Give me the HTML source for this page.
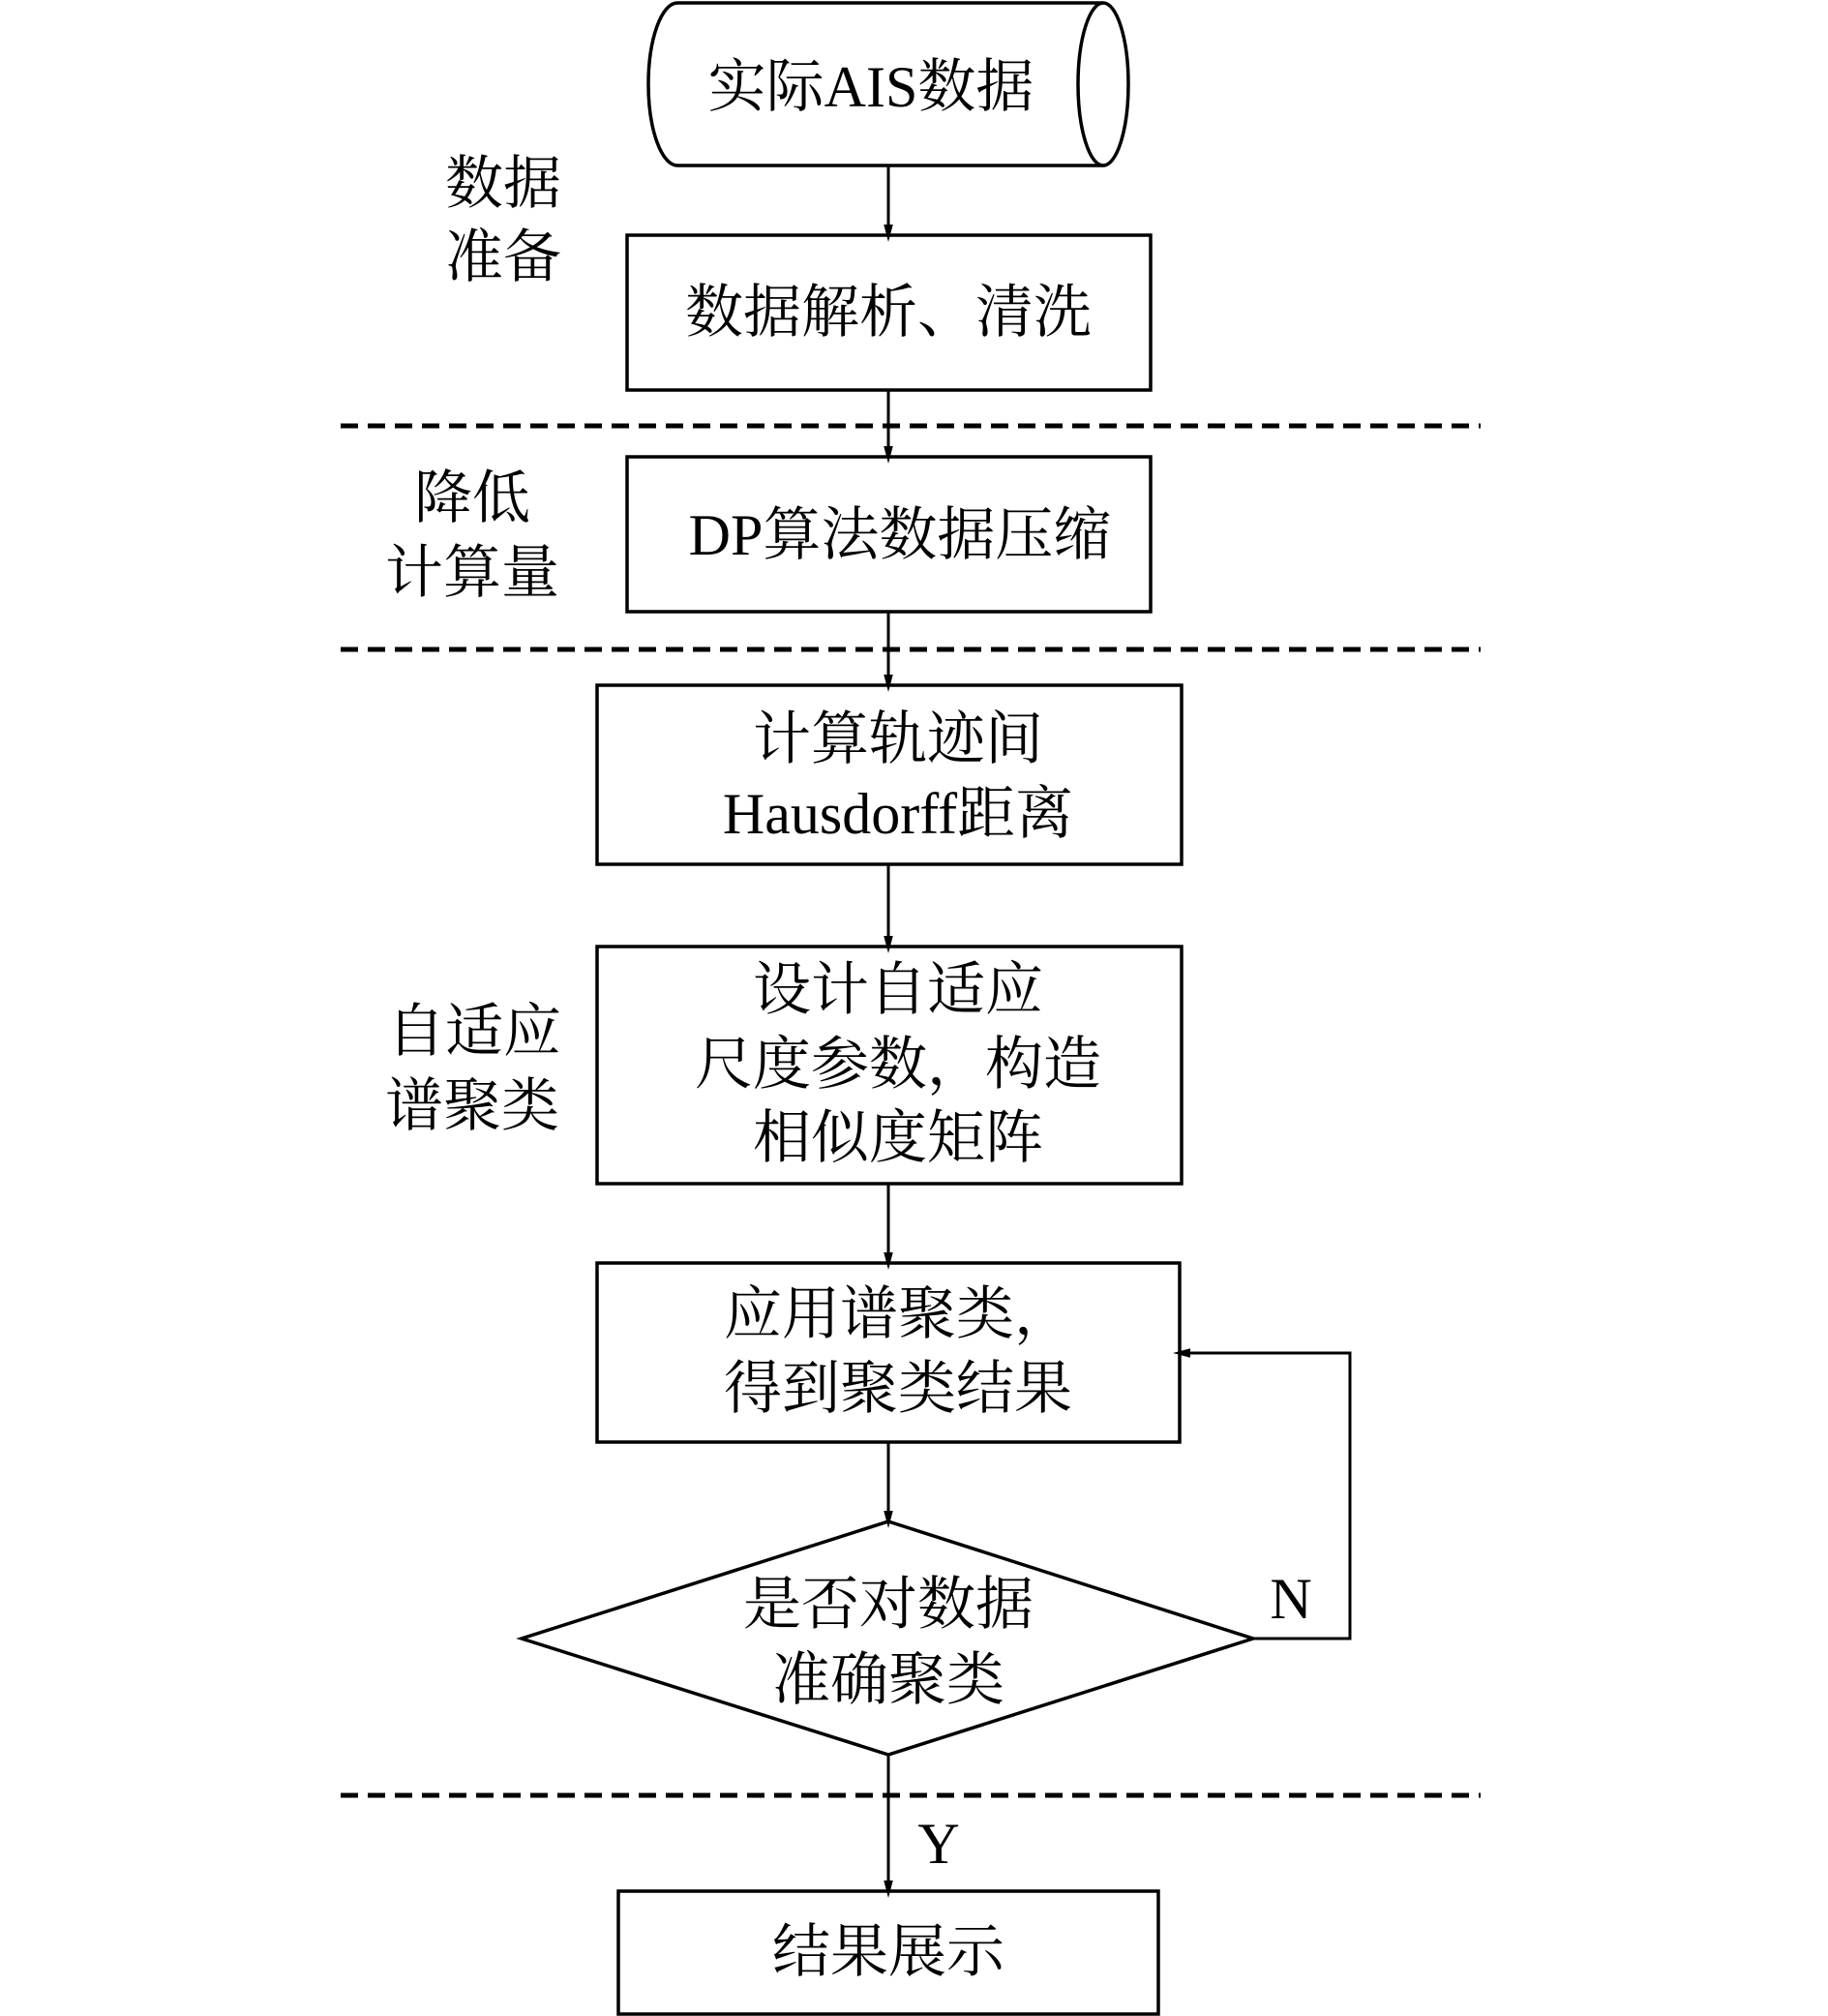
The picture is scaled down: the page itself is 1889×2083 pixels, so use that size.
<!DOCTYPE html>
<html><head><meta charset="utf-8"><style>
html,body{margin:0;padding:0;background:#fff;}
svg{display:block;}
text{font-family:"Liberation Serif","Noto Serif CJK SC",serif;font-size:60px;fill:#000;text-anchor:middle;dominant-baseline:central;}
</style></head><body>
<svg width="1889" height="2083" viewBox="0 0 1889 2083" xmlns="http://www.w3.org/2000/svg">
<defs>
<marker id="ah" markerWidth="18" markerHeight="34" refX="17" refY="9" orient="auto" markerUnits="userSpaceOnUse" viewBox="0 0 34 18">
<path d="M0,0 L34,9 L0,18 Z" fill="#000"/>
</marker>
</defs>
<g fill="none" stroke="#000" stroke-width="3.5">
<!-- cylinder -->
<path d="M700,3 L1140,3 A26,84 0 0 1 1140,171 L700,171 A30,84 0 0 1 700,3 Z"/>
<path d="M1140,3 A26,84 0 0 0 1140,171"/>
<rect x="648" y="243" width="541" height="160"/>
<rect x="648" y="472" width="541" height="160"/>
<rect x="617" y="708" width="604" height="185"/>
<rect x="617" y="978" width="604" height="245"/>
<rect x="617" y="1305" width="602" height="185"/>
<path d="M918,1572 L1295,1693 L918,1813 L539,1693 Z"/>
<rect x="639" y="1954" width="558" height="127"/>
</g>
<g stroke="#000" stroke-width="3" fill="none">
<line x1="352" y1="440" x2="1530" y2="440" stroke-dasharray="18,10" stroke-width="5"/>
<line x1="352" y1="671" x2="1530" y2="671" stroke-dasharray="18,10" stroke-width="5"/>
<line x1="352" y1="1855" x2="1530" y2="1855" stroke-dasharray="18,10" stroke-width="5"/>
<line x1="918" y1="172" x2="918" y2="241" marker-end="url(#ah)"/>
<line x1="918" y1="403" x2="918" y2="470" marker-end="url(#ah)"/>
<line x1="918" y1="632" x2="918" y2="706" marker-end="url(#ah)"/>
<line x1="918" y1="893" x2="918" y2="976" marker-end="url(#ah)"/>
<line x1="918" y1="1223" x2="918" y2="1303" marker-end="url(#ah)"/>
<line x1="918" y1="1490" x2="918" y2="1570" marker-end="url(#ah)"/>
<line x1="918" y1="1813" x2="918" y2="1952" marker-end="url(#ah)"/>
<polyline points="1295,1693 1395,1693 1395,1398 1221,1398" marker-end="url(#ah)"/>
</g>
<text x="900" y="90">实际AIS数据</text>
<text x="918" y="323">数据解析、清洗</text>
<text x="930" y="553">DP算法数据压缩</text>
<text x="928" y="764">计算轨迹间</text>
<text x="928" y="841">Hausdorff距离</text>
<text x="928" y="1023">设计自适应</text>
<text x="928" y="1100">尺度参数，构造</text>
<text x="928" y="1176">相似度矩阵</text>
<text x="928" y="1358">应用谱聚类，</text>
<text x="928" y="1435">得到聚类结果</text>
<text x="918" y="1658">是否对数据</text>
<text x="918" y="1736">准确聚类</text>
<text x="918" y="2017">结果展示</text>
<text x="520" y="190">数据</text>
<text x="520" y="266">准备</text>
<text x="488" y="515">降低</text>
<text x="488" y="592">计算量</text>
<text x="490" y="1066">自适应</text>
<text x="488" y="1143">谱聚类</text>
<text x="1334" y="1652">N</text>
<text x="970" y="1905">Y</text>
</svg>
</body></html>
